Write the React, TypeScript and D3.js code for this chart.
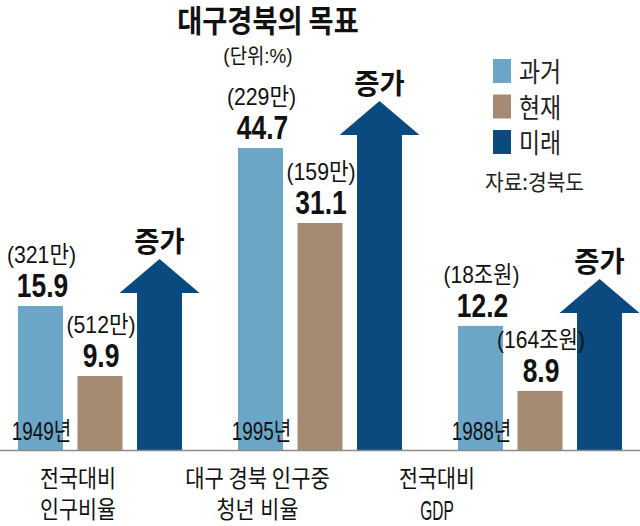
import React from 'react';
import * as d3 from 'd3';

// ---------- data ----------
const groups = ['g1', 'g2', 'g3'];
const categoryLine1 = ['전국대비', '대구 경북 인구중', '전국대비'];
const categoryLine2 = ['인구비율', '청년 비율', 'GDP'];
const years = ['1949년', '1995년', '1988년'];
const pastValues = [15.9, 44.7, 12.2];
const presentValues = [9.9, 31.1, 8.9];
const pastNotes = ['(321만)', '(229만)', '(18조원)'];
const presentNotes = ['(512만)', '(159만)', '(164조원)'];
const futureLabel = '증가';
const seriesKeys = ['past', 'present', 'future'];
const seriesNames = ['과거', '현재', '미래'];
// each panel is a different measure with its own (truncated) value axis
const panelAxisMin = [3.56, -10.1, 5.9];
const panelAxisMax = [29.27, 44.35, 21.13];

const title = '대구경북의 목표';
const unitText = '(단위:%)';
const sourceText = '자료:경북도';

// ---------- style ----------
const colors: Record<string, string> = { past: '#6BA6C7', present: '#A48B72', future: '#0B4A7F' };
const KR = "'Noto Sans CJK KR', sans-serif";
const MIX = "'Liberation Sans', 'Noto Sans CJK KR', sans-serif";

const W = 640, H = 526;
const baseY = 450;
const plotTop = 150;

type Em = { h: number; d: number; l?: number };
function estW(text: string, size: number, em: Em) {
  let w = 0;
  for (const ch of text) {
    if (/[\uAC00-\uD7A3]/.test(ch)) w += em.h;
    else if (/[0-9]/.test(ch)) w += em.d;
    else if (ch === '.' || ch === ',') w += 0.22;
    else if (ch === '(' || ch === ')') w += 0.3;
    else if (ch === ':') w += 0.5;
    else if (ch === '%') w += 0.8;
    else if (ch === ' ') w += 0.25;
    else if (/[A-Z]/.test(ch)) w += em.l ?? 0.47;
    else w += 0.5;
  }
  return w * size;
}

function T(props: {
  x: number; y: number; text: string; size: number; em: Em; bold?: boolean;
  anchor?: 'start' | 'middle' | 'end'; family?: string; fill?: string;
}) {
  const { x, y, text, size, em, bold, anchor = 'middle', family = KR, fill = '#111' } = props;
  return (
    <text
      x={x}
      y={y}
      fontSize={size}
      fontFamily={family}
      fontWeight={bold ? 700 : 400}
      textAnchor={anchor}
      fill={fill}
      textLength={estW(text, size, em)}
      lengthAdjust="spacingAndGlyphs"
    >
      {text}
    </text>
  );
}

export default function App() {
  const xGroup = d3.scaleBand<string>().domain(groups).range([-10, 650]).padding(0);
  const xInner = d3
    .scaleBand<string>()
    .domain(seriesKeys)
    .range([0, xGroup.bandwidth()])
    .paddingInner(0.244)
    .paddingOuter(0.47);
  const xCat = d3.scalePoint<string>().domain(groups).range([78, 437]);
  const yScales = panelAxisMin.map((m, i) =>
    d3.scaleLinear().domain([m, panelAxisMax[i]]).range([baseY, plotTop])
  );

  const bw = xInner.bandwidth();
  const headExtra = 17.5;
  const headH = 34;
  const arrowRise = 47;

  return (
    <svg
      width={W}
      height={H}
      style={{ position: 'absolute', left: 0, top: 0, background: '#fff' }}
    >
      <rect x={0} y={0} width={W} height={H} fill="#fff" />
      <T x={268} y={32} text={title} size={31} em={{ h: 0.8, d: 0.5 }} bold />
      <T x={258} y={63} text={unitText} size={21} em={{ h: 0.7, d: 0.5 }} family={MIX} />

      {/* legend */}
      {seriesKeys.map((k, i) => (
        <g key={k}>
          <rect x={493} y={59 + i * 35.5} width={18} height={24} fill={colors[k]} />
          <T
            x={519}
            y={82 + i * 35.5}
            text={seriesNames[i]}
            size={27}
            em={{ h: 0.78, d: 0.5 }}
            anchor="start"
            fill="#222"
          />
        </g>
      ))}
      <T x={485} y={190} text={sourceText} size={22} em={{ h: 0.8, d: 0.5 }} anchor="start" fill="#222" />

      {/* panels */}
      {groups.map((g, i) => {
        const y = yScales[i];
        const gx = xGroup(g)!;
        const px = gx + xInner('past')!;
        const sx = gx + xInner('present')!;
        const fx = gx + xInner('future')!;
        const pTop = y(pastValues[i]);
        const sTop = y(presentValues[i]);
        const tip = pTop - arrowRise;
        const hb = tip + headH;
        const arrowPath = d3.path();
        arrowPath.moveTo(fx, baseY);
        arrowPath.lineTo(fx, hb);
        arrowPath.lineTo(fx - headExtra, hb);
        arrowPath.lineTo(fx + bw / 2, tip);
        arrowPath.lineTo(fx + bw + headExtra, hb);
        arrowPath.lineTo(fx + bw, hb);
        arrowPath.lineTo(fx + bw, baseY);
        arrowPath.closePath();
        const isLatin = /^[A-Z]+$/.test(categoryLine2[i]);
        return (
          <g key={g}>
            <rect x={px} y={pTop} width={bw} height={baseY - pTop} fill={colors.past} />
            <rect x={sx} y={sTop} width={bw} height={baseY - sTop} fill={colors.present} />
            <path d={arrowPath.toString()} fill={colors.future} />

            <T x={px + bw / 2 + 1} y={pTop - 43} text={pastNotes[i]} size={24} em={{ h: 0.78, d: 0.5 }} family={MIX} />
            <T x={px + bw / 2 + 2} y={pTop - 9} text={pastValues[i].toFixed(1)} size={34} em={{ h: 0.8, d: 0.43 }} family={MIX} bold />
            <T x={sx + bw / 2 + 1} y={sTop - 43} text={presentNotes[i]} size={24} em={{ h: 0.78, d: 0.5 }} family={MIX} />
            <T x={sx + bw / 2 + 1} y={sTop - 9} text={presentValues[i].toFixed(1)} size={34} em={{ h: 0.8, d: 0.43 }} family={MIX} bold />
            <T x={fx + bw / 2} y={tip - 7} text={futureLabel} size={28} em={{ h: 0.9, d: 0.5 }} bold />
            <T x={px + bw / 2 + 1} y={baseY - 10} text={years[i]} size={25} em={{ h: 0.7, d: 0.42 }} family={MIX} />

            <T x={xCat(g)!} y={487} text={categoryLine1[i]} size={24} em={{ h: 0.79, d: 0.5 }} />
            <T
              x={xCat(g)!}
              y={isLatin ? 520 : 518}
              text={categoryLine2[i]}
              size={isLatin ? 28 : 24}
              em={{ h: 0.79, d: 0.5, l: 0.4 }}
              family={MIX}
            />
          </g>
        );
      })}

      <line x1={0} x2={W} y1={baseY + 0.5} y2={baseY + 0.5} stroke="#8a8a8a" strokeWidth={1.5} />
    </svg>
  );
}
